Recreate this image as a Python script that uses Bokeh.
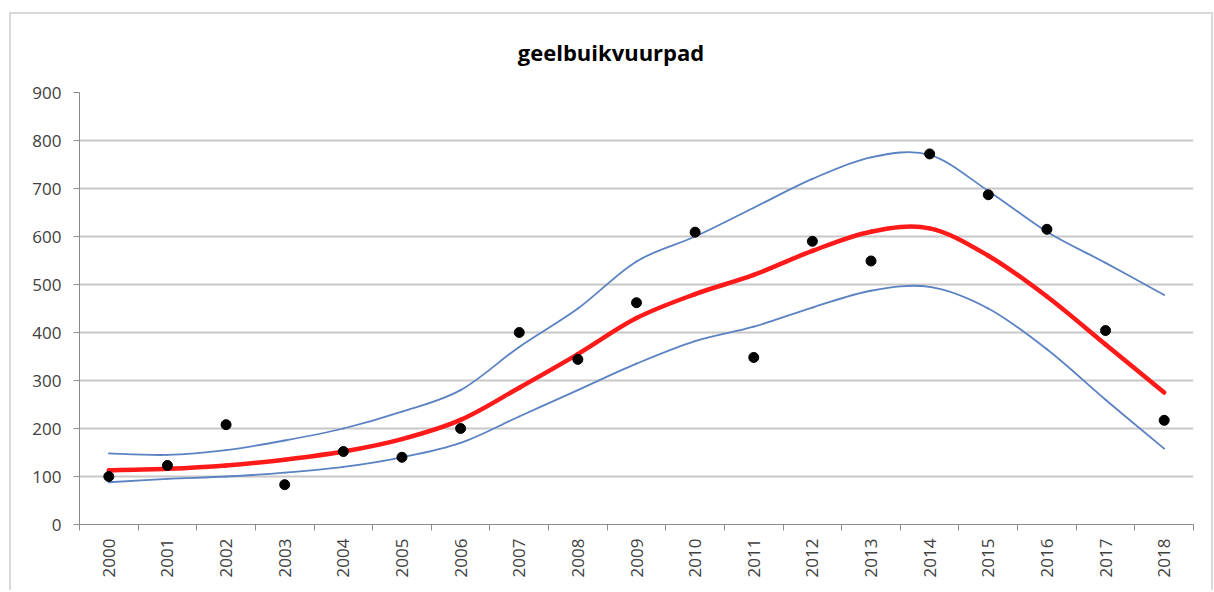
import numpy as np
from bokeh.plotting import figure
from bokeh.models import FixedTicker, Range1d, Div
from bokeh.layouts import column
from bokeh.embed import file_html
from bokeh.resources import INLINE

years = list(range(2000, 2019))
counts = [100, 123, 208, 83, 152, 140, 200, 400, 344, 462, 609, 348, 590, 549, 772, 687, 615, 404, 217]
trend = [113, 116, 123, 135, 152, 178, 218, 285, 355, 430, 480, 520, 570, 610, 617, 560, 475, 375, 275]
upper = [148, 145, 155, 175, 200, 235, 280, 370, 450, 548, 600, 660, 720, 765, 770, 695, 610, 545, 478]
lower = [88, 95, 100, 108, 120, 140, 170, 225, 280, 335, 382, 412, 452, 487, 495, 450, 365, 260, 158]
y_ticks = [0, 100, 200, 300, 400, 500, 600, 700, 800, 900]
title_text = "geelbuikvuurpad"

FONT = "Open Sans"

title_div = Div(
    text=('<div style="font-family:\'Open Sans\';font-size:22px;font-weight:bold;color:#000;'
          'text-align:center;width:1200px;line-height:30px;padding-top:23px;">'
          + title_text + '</div>'),
    width=1200, height=66, margin=0)

p = figure(width=1200, height=510, output_backend="svg", toolbar_location=None,
           x_range=Range1d(1999.5, 2018.5), y_range=Range1d(0, 900),
           min_border_left=68, min_border_right=18, min_border_top=12, min_border_bottom=66,
           margin=0)
p.outline_line_color = None

# axes
xa = p.xaxis[0]
xa.ticker = FixedTicker(ticks=years, minor_ticks=[y - 0.5 for y in years] + [years[-1] + 0.5])
xa.major_tick_line_color = None
xa.minor_tick_line_color = "#8c8c8c"
xa.minor_tick_out = 6
xa.minor_tick_in = 0
xa.axis_line_color = "#8c8c8c"
xa.major_label_orientation = np.pi / 2
xa.major_label_text_font = FONT
xa.major_label_text_font_size = "17px"
xa.major_label_text_color = "#404040"
xa.major_label_standoff = 8

ya = p.yaxis[0]
ya.ticker = FixedTicker(ticks=y_ticks)
ya.minor_tick_line_color = None
ya.major_tick_line_color = "#8c8c8c"
ya.major_tick_out = 6
ya.major_tick_in = 0
ya.axis_line_color = "#8c8c8c"
ya.major_label_text_font = FONT
ya.major_label_text_font_size = "17px"
ya.major_label_text_color = "#404040"
ya.major_label_standoff = 12

p.xgrid.grid_line_color = None
p.ygrid.grid_line_color = "#c8c8c8"
p.ygrid.grid_line_width = 2


def smooth(xs, ys):
    xs = np.asarray(xs, float)
    ys = np.asarray(ys, float)
    n = len(xs)
    xp = np.concatenate([[xs[0]], xs, [xs[-1]]])
    yp = np.concatenate([[ys[0]], ys, [ys[-1]]])
    d = dict(x0=[], y0=[], x1=[], y1=[], cx0=[], cy0=[], cx1=[], cy1=[])
    for i in range(n - 1):
        j = i + 1
        d["x0"].append(xp[j]); d["y0"].append(yp[j])
        d["x1"].append(xp[j + 1]); d["y1"].append(yp[j + 1])
        d["cx0"].append(xp[j] + (xp[j + 1] - xp[j - 1]) / 6)
        d["cy0"].append(yp[j] + (yp[j + 1] - yp[j - 1]) / 6)
        d["cx1"].append(xp[j + 1] - (xp[j + 2] - xp[j]) / 6)
        d["cy1"].append(yp[j + 1] - (yp[j + 2] - yp[j]) / 6)
    return d


for series, color, width in [(upper, "#5b82c2", 1.8), (lower, "#5b82c2", 1.8), (trend, "#ff1a1a", 4.5)]:
    d = smooth(years, series)
    p.bezier(x0=d["x0"], y0=d["y0"], x1=d["x1"], y1=d["y1"],
             cx0=d["cx0"], cy0=d["cy0"], cx1=d["cx1"], cy1=d["cy1"],
             line_color=color, line_width=width, line_cap="round")

p.scatter(years, counts, size=10, fill_color="black", line_color="black")

layout = column(title_div, p, spacing=0)
layout.styles = {"border": "2px solid #d9d9d9", "border-bottom": "none",
                 "margin-left": "9px", "margin-top": "12px"}

open("out.html", "w").write(file_html(layout, INLINE))
